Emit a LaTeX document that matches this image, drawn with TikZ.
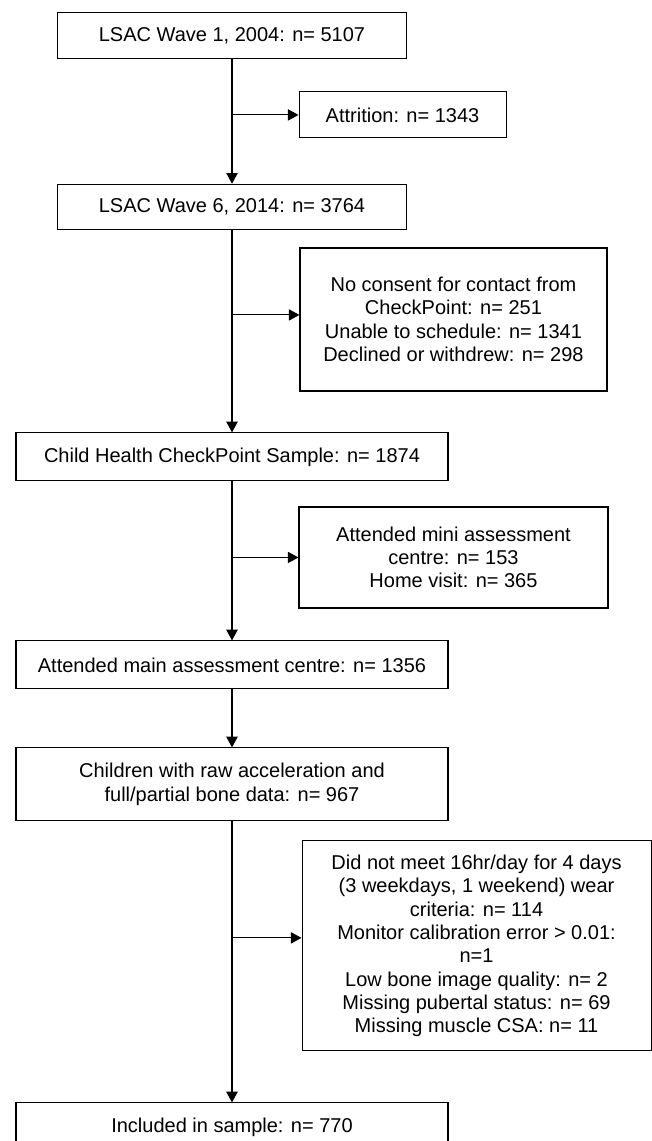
\documentclass[tikz,border=0pt]{standalone}
\usepackage{fontspec}
\setmainfont{Liberation Sans}
\usetikzlibrary{arrows.meta, positioning}
\tikzstyle{mainbox} = [rectangle, minimum width=324pt, minimum height=36pt, align=center, draw=black, line width=0.8pt]
\tikzstyle{wavebox} = [mainbox, minimum width=261.75pt, minimum height=34pt]
\tikzstyle{sidebox} = [rectangle, align=center, draw=black, line width=0.8pt]
\tikzstyle{arrow} = [line width=0.8pt, -{Triangle[length=8pt,width=8.5pt]}]

\begin{document}
\begin{tikzpicture}[node distance=2cm, font=\fontsize{15}{17.5}\selectfont]
\useasboundingbox (0,0) rectangle (488.25pt,-855.75pt);

% Nodes
\node (wave1) [wavebox] at (174pt,-26.6pt) {LSAC Wave 1, 2004: n= 5107};
\node (wave6) [wavebox, below of=wave1, node distance=128.6pt] {LSAC Wave 6, 2014: n= 3764};
\node (checkpoint) [mainbox, below of=wave6, node distance=187.5pt] {Child Health CheckPoint Sample: n= 1874};
\node (maincentre) [mainbox, below of=checkpoint, node distance=156pt] {Attended main assessment centre: n= 1356};
\node (rawdata) [mainbox, below of=maincentre, node distance=89.6pt, minimum height=54.75pt] {Children with raw acceleration and\\full/partial bone data: n= 967};
\node (included) [mainbox, below of=rawdata, node distance=256.9pt] {Included in sample: n= 770};

% Exclusions
\node (attrition) [sidebox, below of=wave1, node distance=59.6pt, xshift=127.9pt, minimum width=155.25pt, minimum height=34.5pt] {Attrition: n= 1343};
\node (noconsent) [sidebox, below of=wave6, node distance=84.4pt, xshift=166.1pt, minimum width=230.25pt, minimum height=107.25pt] {No consent for contact from\\CheckPoint: n= 251\\Unable to schedule: n= 1341\\Declined or withdrew: n= 298};
\node (minicentre) [sidebox, below of=checkpoint, node distance=75.4pt, xshift=166.1pt, minimum width=231.75pt, minimum height=75.75pt] {Attended mini assessment\\centre: n= 153\\Home visit: n= 365};
\node (excluded) [sidebox, below of=rawdata, node distance=121.1pt, xshift=183.4pt, minimum width=261.75pt, minimum height=157.5pt] {Did not meet 16hr/day for 4 days\\(3 weekdays, 1 weekend) wear\\criteria: n= 114\\Monitor calibration error > 0.01:\\n=1\\Low bone image quality: n= 2\\Missing pubertal status: n= 69\\Missing muscle CSA: n= 11};

% Junctions
\coordinate (jA) at (wave1.south |- attrition.west);
\coordinate [yshift=3.4pt] (jB) at (wave6.south |- noconsent.west);
\coordinate (jC) at (checkpoint.south |- minicentre.west);
\coordinate [yshift=6pt] (jD) at (rawdata.south |- excluded.west);

% Arrows
\draw [arrow] (wave1) -- (wave6);
\draw [arrow] (wave6) -- (checkpoint);
\draw [arrow] (checkpoint) -- (maincentre);
\draw [arrow] (maincentre) -- (rawdata);
\draw [arrow] (rawdata) -- (included);
\draw [arrow] (jA) -- (jA -| attrition.west);
\draw [arrow] (jB) -- (jB -| noconsent.west);
\draw [arrow] (jC) -- (jC -| minicentre.west);
\draw [arrow] (jD) -- (jD -| excluded.west);

\end{tikzpicture}
\end{document}
